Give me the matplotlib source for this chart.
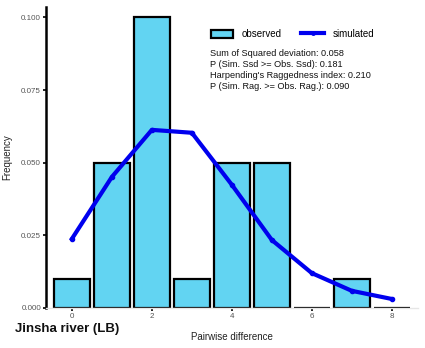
import matplotlib
matplotlib.use("Agg")
import matplotlib.pyplot as plt
from matplotlib.patches import Patch
from matplotlib.lines import Line2D

diffs = [0, 1, 2, 3, 4, 5, 6, 7, 8]
observed = [0.010, 0.050, 0.100, 0.010, 0.050, 0.050, 0.000, 0.010, 0.000]
simulated = [0.0238, 0.0451, 0.0613, 0.0603, 0.0424, 0.0234, 0.0120, 0.0059, 0.0031]
xticks = [0, 2, 4, 6, 8]
yticks = [0.000, 0.025, 0.050, 0.075, 0.100]
stats_lines = [
    "Sum of Squared deviation: 0.058",
    "P (Sim. Ssd >= Obs. Ssd): 0.181",
    "Harpending's Raggedness index: 0.210",
    "P (Sim. Rag. >= Obs. Rag.): 0.090",
]

plt.rcParams['font.family'] = ['Liberation Sans', 'DejaVu Sans']

fig = plt.figure(figsize=(4.25, 3.48), dpi=100)
ax = fig.add_axes([0.108, 0.115, 0.875, 0.865])

bar_color = '#62d4f2'
ax.bar(diffs, observed, width=0.9, color=bar_color, edgecolor='black', linewidth=1.6, zorder=2)
ax.plot(diffs, simulated, color='#0000ee', linewidth=3, marker='o', markersize=3, zorder=3)

ax.set_xlim(-0.65, 8.65)
ax.set_ylim(0, 0.1036)
ax.set_xticks(xticks)
ax.set_yticks(yticks)
ax.set_xticklabels([str(t) for t in xticks])
ax.set_yticklabels([f"{t:.3f}" for t in yticks])
ax.tick_params(axis='both', labelsize=5.8, labelcolor='#555555', length=2, width=1.2, color='black', pad=1.5)

for s in ['top', 'right']:
    ax.spines[s].set_visible(False)
ax.spines['left'].set_linewidth(1.8)
ax.spines['bottom'].set_color('#e6e6e6')
ax.spines['bottom'].set_linewidth(1.0)

ax.set_xlabel('Pairwise difference', fontsize=7, color='#222222', labelpad=9)
ax.set_ylabel('Frequency', fontsize=7, color='#222222', labelpad=6)

fig.text(0.035, 0.047, 'Jinsha river (LB)', fontsize=9.5, fontweight='bold', color='#111111')

handles = [Patch(facecolor=bar_color, edgecolor='black', linewidth=1.6),
           Line2D([0], [0], color='#0000ee', linewidth=3, marker='o', markersize=2.5)]
ax.legend(handles, ['observed', 'simulated'], loc='upper left', bbox_to_anchor=(0.42, 0.955),
          ncol=2, frameon=False, fontsize=7, handlelength=2.3, handleheight=1.0,
          columnspacing=2.0, handletextpad=0.9)

ax.text(0.44, 0.86, "\n".join(stats_lines), transform=ax.transAxes, fontsize=6.6,
        va='top', ha='left', color='#111111', linespacing=1.3)

fig.savefig('out.png', dpi=100)
